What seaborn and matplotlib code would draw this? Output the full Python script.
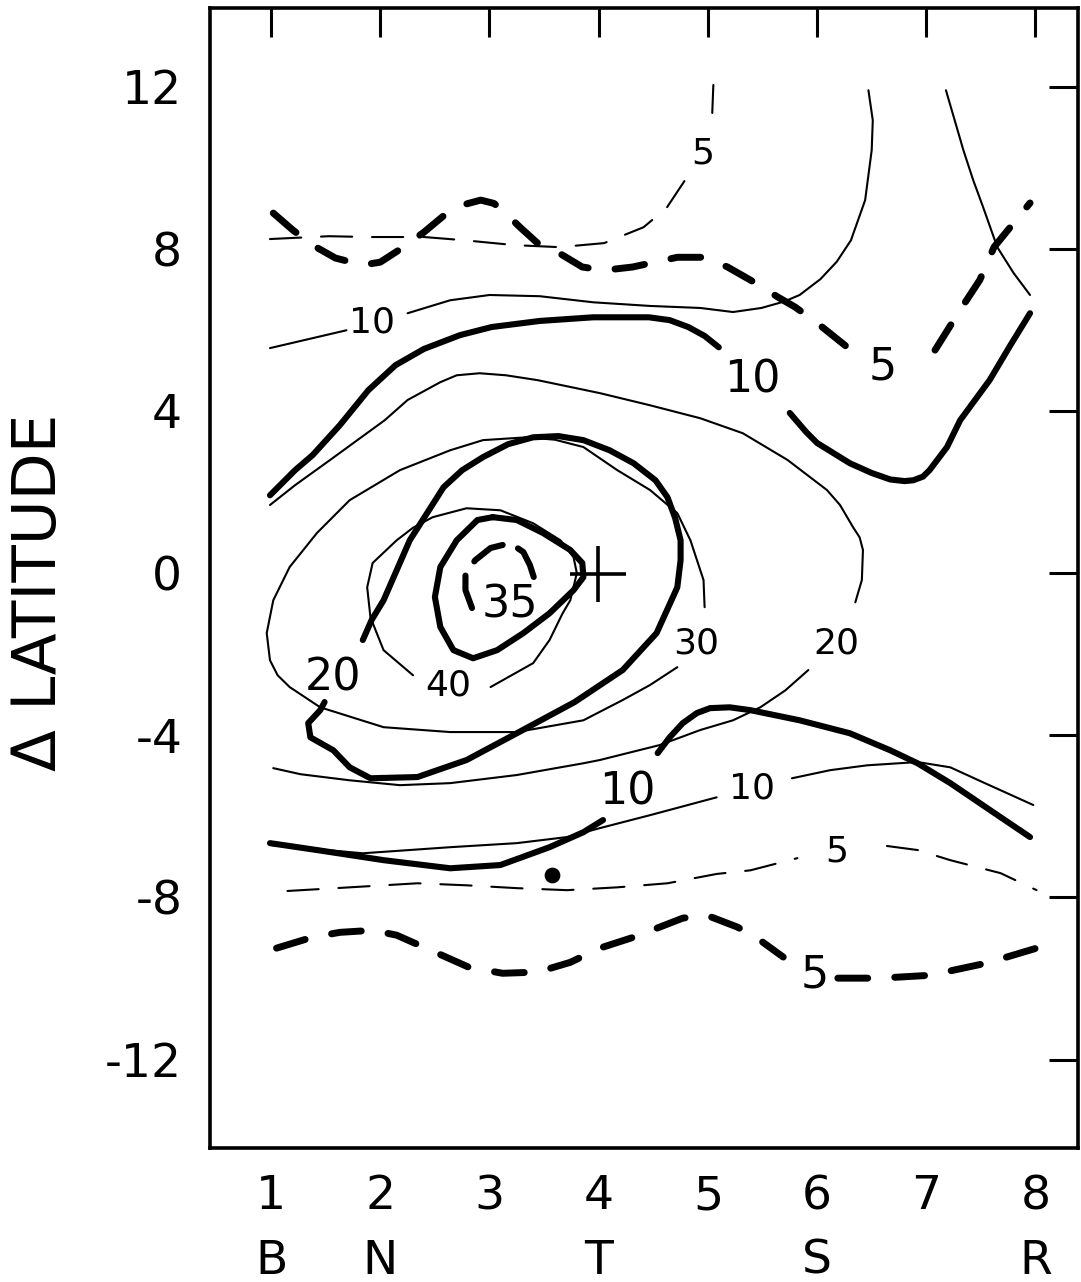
import matplotlib
matplotlib.use("Agg")
import matplotlib.pyplot as plt
import seaborn as sns

# ---------------- data ----------------
x_ticks = [1, 2, 3, 4, 5, 6, 7, 8]
x_tick_numbers = ["1", "2", "3", "4", "5", "6", "7", "8"]
x_tick_letters = ["B", "N", "", "T", "", "S", "", "R"]
y_ticks = [-12, -8, -4, 0, 4, 8, 12]
y_tick_labels = ["-12", "-8", "-4", "0", "4", "8", "12"]

# thin dashed 5 (upper)
td5u_a_x = [0.99, 1.53, 1.89, 2.40, 2.77, 3.23, 3.64, 4.05, 4.41, 4.62, 4.79]
td5u_a_y = [8.24, 8.31, 8.29, 8.29, 8.21, 8.09, 8.04, 8.14, 8.53, 9.00, 9.69]
td5u_b_x = [5.04, 5.05]
td5u_b_y = [11.35, 12.04]

# thick dashed 5 (upper)
kd5u_a_x = [1.02, 1.20, 1.38, 1.59, 1.84, 2.00, 2.20, 2.40, 2.61, 2.78, 2.92, 3.04, 3.12, 3.28, 3.44,
            3.64, 3.85, 4.05, 4.31, 4.72, 4.97, 5.18, 5.44, 5.64, 5.80, 6.00, 6.31]
kd5u_a_y = [8.88, 8.46, 8.09, 7.77, 7.60, 7.67, 8.02, 8.41, 8.88, 9.10, 9.20, 9.12, 8.95, 8.53, 8.14,
            7.89, 7.55, 7.47, 7.55, 7.79, 7.79, 7.55, 7.15, 6.81, 6.56, 6.17, 5.50]
kd5u_b_x = [7.08, 7.31, 7.49, 7.62, 7.95]
kd5u_b_y = [5.50, 6.49, 7.23, 8.04, 9.13]

# thin 10 (upper)
t10u_a_x = [0.99, 1.69]
t10u_a_y = [5.55, 5.99]
t10u_b_x = [2.25, 2.64, 3.00, 3.46, 3.95, 4.47, 4.93, 5.23, 5.49, 5.70, 5.84, 6.03, 6.18, 6.31, 6.44,
            6.50, 6.51, 6.47]
t10u_b_y = [6.41, 6.73, 6.86, 6.83, 6.68, 6.59, 6.54, 6.44, 6.54, 6.70, 6.86, 7.25, 7.68, 8.21, 9.20,
            10.43, 11.17, 11.91]

# thin line, upper right
tr_x = [7.18, 7.26, 7.34, 7.43, 7.52, 7.65, 7.80, 7.95]
tr_y = [11.91, 11.17, 10.43, 9.69, 9.03, 8.04, 7.40, 6.86]

# thick 10 (upper)
k10ul_x = [0.99, 1.22, 1.38, 1.63, 1.89, 2.14, 2.40, 2.73, 3.02, 3.46, 3.95, 4.46, 4.65, 4.82, 4.97, 5.10]
k10ul_y = [1.92, 2.54, 2.91, 3.65, 4.51, 5.13, 5.53, 5.87, 6.07, 6.22, 6.31, 6.31, 6.24, 6.07, 5.85, 5.57]
k10ur_x = [5.75, 5.90, 6.00, 6.30, 6.50, 6.67, 6.80, 6.88, 6.97, 7.03, 7.19, 7.31, 7.58, 7.77, 7.95]
k10ur_y = [3.95, 3.48, 3.21, 2.71, 2.47, 2.31, 2.27, 2.29, 2.38, 2.54, 3.11, 3.77, 4.76, 5.62, 6.41]

# thin 20
t20_a_x = [6.35, 6.41, 6.42, 6.39, 6.33, 6.21, 6.09, 5.73, 5.32, 4.93, 4.47, 4.01, 3.44, 3.15, 2.91,
           2.70, 2.55, 2.25, 2.04, 1.54, 1.22, 0.99]
t20_a_y = [-0.72, -0.17, 0.57, 0.88, 1.13, 1.68, 2.05, 2.79, 3.45, 3.82, 4.14, 4.44, 4.76, 4.88, 4.93,
           4.88, 4.71, 4.27, 3.77, 2.79, 2.17, 1.68]
t20_b_x = [5.92, 5.71, 5.48, 5.23, 4.93, 4.56, 4.01, 3.86, 3.25, 2.64, 2.18, 1.72, 1.27, 1.02]
t20_b_y = [-2.39, -2.89, -3.31, -3.63, -3.87, -4.24, -4.61, -4.69, -4.98, -5.18, -5.23, -5.11, -4.96, -4.81]

# thin 30
t30_x = [4.97, 4.96, 4.90, 4.84, 4.72, 4.47, 4.17, 3.86, 3.60, 3.34, 2.94, 2.64, 2.18, 1.72, 1.42,
         1.17, 1.02, 0.96, 0.99, 1.06, 1.17, 1.45, 2.03, 2.64, 3.25, 3.86, 4.22, 4.47, 4.72]
t30_y = [-0.84, -0.17, 0.32, 0.81, 1.48, 2.05, 2.54, 3.11, 3.29, 3.35, 3.28, 3.03, 2.54, 1.80, 0.99,
         0.15, -0.67, -1.48, -2.15, -2.52, -2.81, -3.31, -3.80, -3.92, -3.92, -3.63, -3.13, -2.76, -2.32]

# thin 40
t40_x = [3.01, 3.40, 3.55, 3.67, 3.74, 3.80, 3.77, 3.65, 3.40, 3.10, 2.79, 2.48, 2.30, 2.15, 1.93,
         1.88, 1.91, 2.03, 2.30]
t40_y = [-2.81, -2.22, -1.65, -0.99, -0.67, 0.00, 0.39, 0.81, 1.23, 1.55, 1.60, 1.38, 1.12, 0.81, 0.25,
         -0.35, -1.09, -1.90, -2.52]

# thick 20
k20_x = [1.84, 1.92, 2.03, 2.27, 2.58, 2.75, 2.94, 3.17, 3.40, 3.63, 3.86, 4.10, 4.32, 4.52, 4.63,
         4.70, 4.75, 4.75, 4.72, 4.53, 4.22, 3.78, 3.25, 2.79, 2.34, 1.91, 1.72, 1.57, 1.36, 1.34, 1.45, 1.49]
k20_y = [-1.65, -1.16, -0.67, 0.81, 2.12, 2.54, 2.86, 3.18, 3.35, 3.38, 3.28, 3.03, 2.71, 2.29, 1.87,
         1.36, 0.81, 0.32, -0.35, -1.48, -2.39, -3.18, -3.95, -4.61, -5.03, -5.06, -4.79, -4.37, -4.05,
         -3.70, -3.38, -3.18]

# thick 35 (closed)
k35_x = [3.03, 3.25, 3.49, 3.74, 3.85, 3.86, 3.77, 3.55, 3.31, 3.07, 2.85, 2.67, 2.55, 2.50,
         2.55, 2.70, 2.89, 3.03]
k35_y = [1.38, 1.31, 0.99, 0.57, 0.25, -0.10, -0.42, -0.99, -1.48, -1.90, -2.10, -1.90, -1.33,
         -0.59, 0.15, 0.81, 1.31, 1.38]

# thick dashed arc around 35
kd35_x = [2.84, 2.78, 2.78, 2.87, 3.01, 3.19, 3.31, 3.37, 3.42]
kd35_y = [-0.86, -0.42, 0.00, 0.32, 0.62, 0.74, 0.52, 0.20, -0.22]

# thick 10 (lower)
k10l_a_x = [0.99, 1.42, 2.03, 2.64, 3.10, 3.55, 3.86, 4.04]
k10l_a_y = [-6.66, -6.83, -7.08, -7.28, -7.20, -6.76, -6.39, -6.09]
k10l_b_x = [4.54, 4.65, 4.77, 4.90, 5.02, 5.20, 5.39, 5.84, 6.30, 6.67, 6.92, 7.22, 7.68, 7.95]
k10l_b_y = [-4.44, -4.05, -3.70, -3.45, -3.33, -3.31, -3.38, -3.63, -3.95, -4.37, -4.69, -5.18, -6.02, -6.51]

# thin 10 (lower)
t10l_a_x = [1.01, 1.84, 2.64, 3.25, 3.71, 4.01, 4.47, 5.08]
t10l_a_y = [-6.71, -6.91, -6.76, -6.66, -6.51, -6.29, -5.97, -5.53]
t10l_b_x = [5.77, 6.12, 6.46, 6.92, 7.22, 7.52, 7.98]
t10l_b_y = [-5.06, -4.86, -4.74, -4.66, -4.79, -5.16, -5.72]

# thin dashed 5 (lower)
td5l_a_x = [1.15, 1.72, 2.34, 2.79, 3.25, 3.71, 4.17, 4.63, 5.08, 5.39, 5.82]
td5l_a_y = [-7.84, -7.75, -7.65, -7.70, -7.77, -7.82, -7.75, -7.65, -7.42, -7.33, -7.03]
td5l_b_x = [6.64, 6.92, 7.22, 7.68, 8.01]
td5l_b_y = [-6.73, -6.83, -7.08, -7.40, -7.82]

# thick dashed 5 (lower)
kd5l_a_x = [1.05, 1.38, 1.63, 1.93, 2.15, 2.46, 2.81, 3.12, 3.44, 3.74, 4.01, 4.32, 4.77, 4.99,
            5.27, 5.45, 5.69]
kd5l_a_y = [-9.25, -8.98, -8.86, -8.81, -8.93, -9.30, -9.72, -9.87, -9.84, -9.60, -9.25, -8.98,
            -8.51, -8.44, -8.73, -9.00, -9.47]
kd5l_b_x = [6.19, 6.58, 7.03, 7.55, 8.01]
kd5l_b_y = [-9.99, -9.99, -9.92, -9.62, -9.25]

# point marks
dot_x = [3.57]
dot_y = [-7.45]
plus_x = [3.99]
plus_y = [-0.03]

# contour labels
label_text = ["5", "10", "10", "5", "35", "20", "40", "30", "20", "10", "10", "5", "5"]
label_x = [4.95, 1.92, 5.41, 6.60, 3.19, 1.57, 2.62, 4.89, 6.18, 4.26, 5.40, 6.18, 5.98]
label_y = [10.36, 6.17, 4.76, 5.08, -0.79, -2.59, -2.76, -1.73, -1.73, -5.40, -5.30, -6.86, -9.92]
label_heavy = [False, False, True, True, True, True, False, False, False, True, False, False, True]

# ---------------- styling ----------------
sns.set_style("white")
plt.rcParams["font.family"] = ["DejaVu Sans"]

fig = plt.figure(figsize=(10.81, 12.82), dpi=100)
ax = fig.add_axes([0.1943, 0.1045, 0.8030, 0.8893])

THICK = 4.4
THIN = 1.5
THICK_DASH = (0, (4.3, 3.9))
THIN_DASH = (0, (15.0, 9.5))

common = dict(ax=ax, sort=False, estimator=None, color="black",
              solid_capstyle="round", dash_capstyle="round", solid_joinstyle="round",
              dash_joinstyle="round")

curves = [
    (td5u_a_x, td5u_a_y, THIN, THIN_DASH),
    (td5u_b_x, td5u_b_y, THIN, "-"),
    (kd5u_a_x, kd5u_a_y, THICK + 0.6, THICK_DASH),
    (kd5u_b_x, kd5u_b_y, THICK + 0.6, THICK_DASH),
    (t10u_a_x, t10u_a_y, THIN, "-"),
    (t10u_b_x, t10u_b_y, THIN, "-"),
    (tr_x, tr_y, THIN, "-"),
    (k10ul_x, k10ul_y, THICK, "-"),
    (k10ur_x, k10ur_y, THICK, "-"),
    (t20_a_x, t20_a_y, THIN, "-"),
    (t20_b_x, t20_b_y, THIN, "-"),
    (t30_x, t30_y, THIN, "-"),
    (t40_x, t40_y, THIN, "-"),
    (k20_x, k20_y, THICK, "-"),
    (k35_x, k35_y, THICK, "-"),
    (kd35_x, kd35_y, THICK, (0, (5.5, 2.8))),
    (k10l_a_x, k10l_a_y, THICK, "-"),
    (k10l_b_x, k10l_b_y, THICK, "-"),
    (t10l_a_x, t10l_a_y, THIN, "-"),
    (t10l_b_x, t10l_b_y, THIN, "-"),
    (td5l_a_x, td5l_a_y, THIN, THIN_DASH),
    (td5l_b_x, td5l_b_y, THIN, THIN_DASH),
    (kd5l_a_x, kd5l_a_y, THICK + 0.6, THICK_DASH),
    (kd5l_b_x, kd5l_b_y, THICK + 0.6, THICK_DASH),
]
for xs, ys, lw, ls in curves:
    sns.lineplot(x=xs, y=ys, linewidth=lw, linestyle=ls, **common)

sns.scatterplot(x=plus_x, y=plus_y, marker="+", s=1600, color="black", linewidth=2.6, ax=ax)
sns.scatterplot(x=dot_x, y=dot_y, marker="o", s=110, color="black", edgecolor="black", ax=ax)

for t, lx, ly, heavy in zip(label_text, label_x, label_y, label_heavy):
    ax.text(lx, ly, t, ha="center", va="center", fontsize=32 if heavy else 26, color="black")

ax.set_xlim(0.441, 8.39)
ax.set_ylim(-14.18, 13.94)
ax.set_xticks(x_ticks)
ax.set_xticklabels([f"{n}\n{l}" for n, l in zip(x_tick_numbers, x_tick_letters)],
                   fontsize=34, linespacing=1.55, va="top")
ax.set_yticks(y_ticks)
ax.set_yticklabels(y_tick_labels, fontsize=34)
ax.tick_params(axis="both", direction="in", length=21, width=2.2, top=True, right=True,
               labeltop=False, labelright=False, colors="black")
ax.tick_params(axis="x", pad=19)
ax.tick_params(axis="y", pad=20)
for sp in ax.spines.values():
    sp.set_linewidth(2.6)
    sp.set_color("black")
ax.set_xlabel("")
ax.set_ylabel("")

fig.text(40 / 1081, 1 - 592 / 1282, "Δ LATITUDE", rotation=90, ha="center", va="center",
         fontsize=44, color="black")

fig.savefig("out.png", dpi=100)
